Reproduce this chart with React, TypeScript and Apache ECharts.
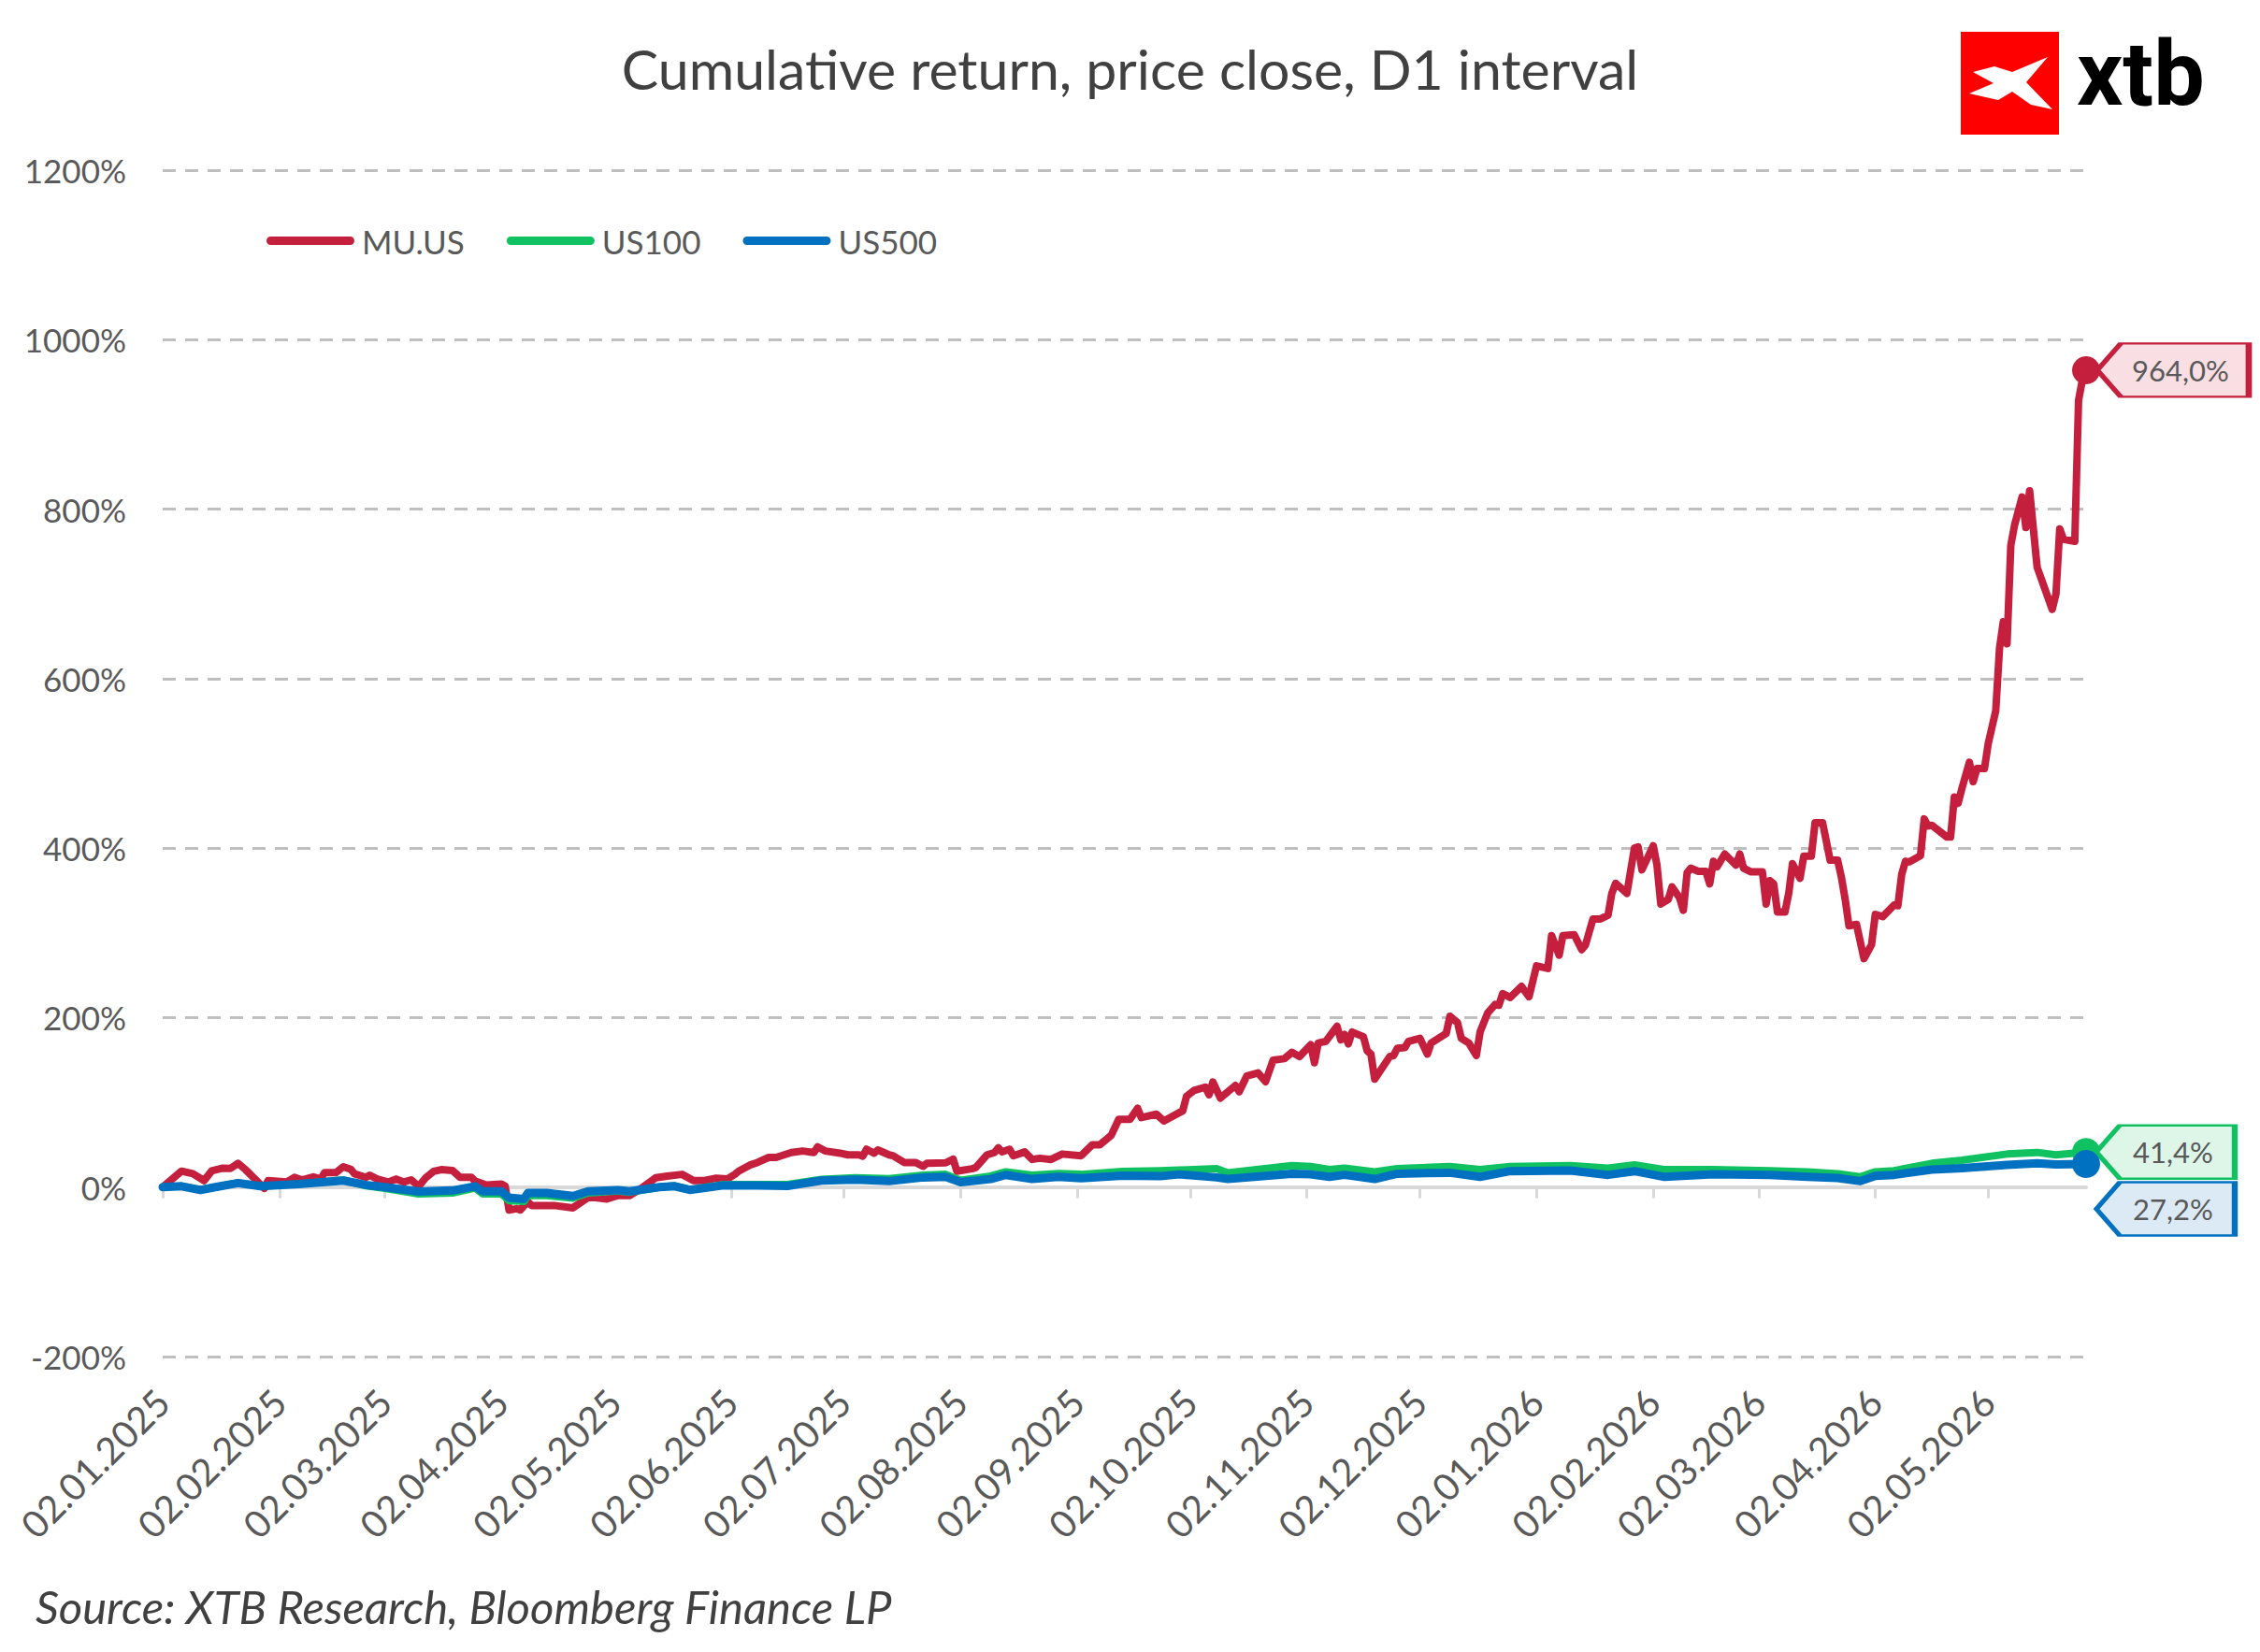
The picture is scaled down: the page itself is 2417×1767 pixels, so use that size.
import React, { useEffect, useRef } from 'react';
import * as echarts from 'echarts';

const FONT = 'Lato';
const TITLE = 'Cumulative return, price close, D1 interval';
const SOURCE = 'Source: XTB Research, Bloomberg Finance LP';

// x = calendar days after 02.01.2025, y = cumulative return in %
const muPoints: [number, number][] = [
    [0, 0], [5, 18.8], [8, 15.8], [11, 7.7], [13, 19], [16, 22.4], [18, 22], [20, 28], [22, 20.6], [27, -1.5],
    [28, 7.7], [33, 6], [35, 11.4], [37, 8.5], [40, 12], [42, 9.5], [43, 17], [46, 17], [48, 24], [50, 21],
    [51, 15.5], [54, 11.5], [55, 14], [57, 9.5], [60, 6], [62, 9.5], [64, 6], [66, 8.5], [68, 1], [70, 11.5],
    [72, 18.5], [74, 20.6], [77, 19.5], [79, 11.5], [82, 11.5], [83, 7], [86, 2.5], [90, 3.6], [91, 1], [92, -27],
    [94, -25.5], [95, -27], [97, -17.3], [98, -21.7], [104, -21.7], [109, -24.5], [113, -12.5], [115, -12.5], [118, -14], [121, -10],
    [124, -10], [127, -2], [131, 11], [134, 13], [138, 15], [141, 7.7], [144, 7.7], [147, 10.5], [150, 9.5], [152, 15],
    [153, 18.7], [156, 26], [158, 29], [161, 35], [163, 35], [167, 40.8], [170, 42.6], [173, 40.8], [174, 47.5], [176, 42.6],
    [180, 40], [182, 38], [185, 38], [186, 36.5], [187, 44.6], [189, 40], [190, 43.8], [193, 38], [194, 37], [197, 29],
    [200, 29], [202, 24.5], [203, 28], [208, 28.6], [210, 33], [211, 18.7], [215, 21.6], [216, 23], [219, 38], [221, 40.8],
    [222, 46.4], [223, 41.5], [225, 44.6], [226, 37], [229, 41.5], [231, 32.6], [233, 34], [236, 32.6], [239, 39], [244, 37],
    [247, 50], [249, 50], [252, 61], [254, 80], [257, 80], [259, 93], [260, 82], [264, 86], [266, 78], [271, 90],
    [272, 107], [274, 114], [277, 118], [278, 109], [279, 124], [281, 105], [285, 120], [286, 112.5], [288, 131], [291, 134.7],
    [293, 124.4], [295, 149.7], [298, 151.5], [300, 159], [302, 154], [305, 168], [306, 146.7], [307, 170], [309, 172], [312, 189.7],
    [313, 173.8], [314, 180], [315, 169], [316, 183], [319, 177.5], [320, 160.9], [321, 157], [322, 127.4], [326, 154], [327, 155.2],
    [328, 163.7], [330, 164.5], [331, 172], [334, 175.6], [336, 157], [337, 170], [341, 181.3], [342, 201.6], [344, 194], [345, 175.6],
    [347, 170], [349, 155.2], [350, 183], [352, 205.3], [354, 215.6], [355, 214.5], [356, 228.3], [358, 223.8], [361, 236.8], [363, 224.6],
    [365, 261], [368, 258], [369, 296.8], [371, 273.6], [372, 296.8], [375, 297.9], [377, 280.2], [378, 285.7], [380, 316.4], [382, 316.4],
    [384, 320.8], [385, 346.6], [386, 358.4], [389, 346.6], [391, 400], [392, 401.4], [393, 374.4], [396, 402.8], [397, 380], [398, 334],
    [400, 339.5], [401, 354.2], [403, 341.3], [404, 326.5], [405, 370.8], [406, 376.3], [408, 372.6], [410, 372.6], [411, 357.9], [412, 384.4],
    [413, 378.2], [415, 393], [418, 380], [419, 393], [420, 376.3], [422, 371.9], [425, 371.9], [426, 334], [427, 361.6], [428, 357.9],
    [429, 324.7], [431, 324.7], [432, 346.6], [433, 381.7], [435, 364.5], [436, 390.5], [438, 390.5], [439, 429.9], [441, 429.9], [443, 385.7],
    [445, 385.7], [446, 365.4], [447, 339.5], [448, 308.3], [450, 310], [452, 269.5], [454, 286], [455, 321.8], [457, 319.2], [460, 332.8],
    [461, 332], [462, 368.8], [463, 384.4], [464, 383.7], [467, 391], [468, 434.5], [469, 426], [470, 427], [474, 413.1], [475, 413.1],
    [476, 460.3], [477, 452.9], [478, 470.2], [480, 501.3], [481, 478.4], [482, 493.8], [484, 493.8], [485, 523.3], [487, 562], [488, 635.7],
    [489, 667], [490, 641.2], [491, 757.2], [492, 781.2], [494, 814.3], [495, 778.2], [496, 821.7], [498, 731.4], [502, 681.7], [503, 700],
    [504, 776.7], [505, 764.5], [508, 762], [509, 928.4], [510, 952.4], [511, 964.0]
];

const us100Points: [number, number][] = [
    [0, 0], [5, 1], [10, -3], [14, 0], [20, 5], [26, 1], [36, 3.5], [48, 8.5], [54, 1.5], [59, -1.5],
    [68, -8], [77, -7], [83, -1], [85, -8], [90, -8], [92, -16], [96, -17], [97, -10], [102, -10], [109, -13],
    [113, -7], [121, -4.5], [124, -6], [132, 0], [136, 1.5], [140, -3], [149, 3], [158, 3], [166, 3], [175, 9],
    [184, 11], [193, 10], [202, 14], [208, 15], [212, 8], [220, 13], [224, 18], [231, 14], [238, 16], [244, 15],
    [255, 18.5], [265, 19.4], [270, 20], [280, 21.7], [283, 16.9], [300, 25.4], [305, 24.3], [310, 20.6], [314, 22.4], [322, 18],
    [328, 21.7], [342, 24.3], [350, 20.6], [358, 24.3], [374, 25.4], [384, 22.4], [391, 26.1], [399, 20.6], [412, 20.6], [427, 19.4],
    [437, 18], [445, 15.8], [451, 12.1], [455, 18], [460, 19.4], [470, 28], [478, 31.7], [490, 39], [498, 40.9], [503, 38],
    [511, 41.4]
];

const us500Points: [number, number][] = [
    [0, 0], [5, 1], [10, -3.5], [14, 0], [20, 4.8], [26, 1], [36, 3.5], [48, 7.7], [54, 2.5], [59, 0],
    [68, -5.2], [77, -4], [83, 1], [85, -5], [90, -5], [92, -12.5], [96, -14], [97, -7], [102, -7], [109, -10.5],
    [113, -5], [121, -3.5], [124, -5], [132, 0], [136, 1], [140, -3.3], [149, 2], [158, 2], [166, 1.3], [175, 7.7],
    [184, 8.8], [193, 7], [202, 11.4], [208, 12], [212, 5.8], [220, 9.5], [224, 14.3], [231, 9.5], [238, 12], [244, 10.5],
    [255, 13.5], [265, 12.8], [270, 15], [280, 11.4], [283, 9.6], [300, 15.8], [305, 15], [310, 12.1], [314, 14.4], [322, 9.6],
    [328, 15.8], [342, 16.9], [350, 12.1], [358, 18.8], [374, 19.5], [384, 14.4], [391, 18.8], [399, 12.1], [412, 15], [427, 14.4],
    [437, 12.1], [445, 10.7], [451, 7], [455, 13.3], [460, 14.4], [470, 20.6], [478, 22.4], [490, 26.1], [498, 28], [503, 26.8],
    [511, 27.2]
];

const tickLabels = [
    '02.01.2025', '02.02.2025', '02.03.2025', '02.04.2025', '02.05.2025', '02.06.2025',
    '02.07.2025', '02.08.2025', '02.09.2025', '02.10.2025', '02.11.2025', '02.12.2025',
    '02.01.2026', '02.02.2026', '02.03.2026', '02.04.2026', '02.05.2026'
];

const yTicks = { min: -200, max: 1200, step: 200 };

const DAY = 86400000;

const parseDate = (s: string) => {
    const [d, m, y] = s.split('.').map(Number);
    return Date.UTC(y, m - 1, d);
};
const START = parseDate(tickLabels[0]);
const toDay = (s: string) => Math.round((parseDate(s) - START) / DAY);
const pct = (v: number) => v.toFixed(1).replace('.', ',') + '%';

const LEGEND_ICON = 'path://M4.5,0H89.5A4.5,4.5,0,0,1,89.5,9H4.5A4.5,4.5,0,0,1,4.5,0Z';
const calloutPath = (w: number) => `path://M0,28.5L25,0L${w},0L${w},57L25,57Z`;

const App: React.FC = () => {
    const chartRef = useRef<HTMLDivElement>(null);

    useEffect(() => {
        if (!chartRef.current) return;
        document.body.style.margin = '0';

        const chart = echarts.init(chartRef.current, null, { renderer: 'svg' });

        const tickDays = tickLabels.map(toDay);
        const labelOf = (d: number) => tickLabels[tickDays.indexOf(Math.round(d))] ?? '';
        const lastDay = muPoints[muPoints.length - 1][0];

        const makeSeries = (
            name: string,
            pts: [number, number][],
            color: string,
            fill: string,
            width: number,
            boxW: number,
            offset: [number, number]
        ) => {
            const last = pts[pts.length - 1];
            return {
                name,
                type: 'line',
                data: pts,
                showSymbol: false,
                symbol: 'none',
                lineStyle: { color, width, join: 'round', cap: 'round' },
                itemStyle: { color },
                emphasis: { disabled: true },
                markPoint: {
                    silent: true,
                    animation: false,
                    data: [
                        {
                            coord: last,
                            symbol: 'circle',
                            symbolSize: 30,
                            itemStyle: { color },
                            label: { show: false }
                        },
                        {
                            coord: last,
                            symbol: calloutPath(boxW),
                            symbolSize: [boxW, 57],
                            symbolKeepAspect: false,
                            symbolOffset: offset,
                            itemStyle: { color: fill, borderColor: color, borderWidth: 4 },
                            label: {
                                show: true,
                                position: 'inside',
                                offset: [8, 0],
                                formatter: pct(last[1]),
                                color: '#595959',
                                fontSize: 31,
                                fontFamily: FONT
                            }
                        }
                    ]
                }
            };
        };

        const option = {
            animation: false,
            textStyle: { fontFamily: FONT },
            title: {
                text: TITLE,
                left: 'center',
                top: 44,
                padding: 0,
                textStyle: { fontSize: 59, fontWeight: 'normal', color: '#404040', fontFamily: FONT }
            },
            legend: {
                left: 285,
                top: 240,
                padding: 0,
                icon: LEGEND_ICON,
                itemWidth: 94,
                itemHeight: 9,
                itemGap: 45,
                textStyle: { fontSize: 35, color: '#595959', padding: [0, 0, 0, 3] },
                data: ['MU.US', 'US100', 'US500']
            },
            grid: { left: 174, right: 186, top: 182, bottom: 316, outerBoundsMode: 'none' },
            xAxis: [
                {
                    type: 'value',
                    position: 'bottom',
                    min: 0,
                    max: lastDay,
                    axisLine: { show: false, onZero: false },
                    axisTick: { show: false },
                    splitLine: { show: false },
                    axisLabel: {
                        customValues: tickDays,
                        rotate: 45,
                        margin: 42,
                        fontSize: 40,
                        color: '#595959',
                        formatter: (v: number) => labelOf(v)
                    }
                },
                {
                    type: 'value',
                    position: 'bottom',
                    min: 0,
                    max: lastDay,
                    axisLine: { show: true, onZero: true, lineStyle: { color: '#D9D9D9', width: 4 } },
                    axisTick: {
                        show: true,
                        customValues: tickDays,
                        length: 12,
                        lineStyle: { color: '#D9D9D9', width: 3 }
                    },
                    axisLabel: { show: false },
                    splitLine: { show: false }
                }
            ],
            yAxis: {
                type: 'value',
                min: yTicks.min,
                max: yTicks.max,
                interval: yTicks.step,
                axisLine: { show: false },
                axisTick: { show: false },
                axisLabel: { formatter: (v: number) => `${v}%`, fontSize: 35, color: '#595959', margin: 39 },
                splitLine: {
                    lineStyle: {
                        // no dashed line at 0%, the axis line sits there
                        color: ['#BFBFBF', 'rgba(0,0,0,0)', '#BFBFBF', '#BFBFBF', '#BFBFBF', '#BFBFBF', '#BFBFBF', '#BFBFBF'],
                        width: 3,
                        type: [14, 10]
                    }
                }
            },
            series: [
                makeSeries('MU.US', muPoints, '#C51F3E', '#F9DFE3', 8, 162, [93, 0]),
                makeSeries('US100', us100Points, '#0FC160', '#DDF6E8', 8, 148, [85, 0]),
                makeSeries('US500', us500Points, '#0070C0', '#DCEAF6', 9, 148, [85, 48])
            ],
            graphic: [
                {
                    type: 'rect',
                    shape: { x: 2097, y: 34, width: 105, height: 110 },
                    style: { fill: '#FF0000' }
                },
                {
                    type: 'polygon',
                    shape: {
                        points: [
                            [2110, 77], [2133, 71], [2152, 77], [2190, 61], [2167, 88], [2195, 117],
                            [2172, 112], [2152, 98], [2137, 107], [2106, 100], [2132, 89]
                        ]
                    },
                    style: { fill: '#FFFFFF' }
                },
                {
                    type: 'text',
                    left: 2221,
                    top: 30,
                    style: { text: 'xtb', fontSize: 97, fontWeight: 'bold', fontFamily: 'Roboto', fill: '#000000' }
                },
                {
                    type: 'text',
                    left: 38,
                    top: 1693,
                    style: { text: SOURCE, fontSize: 49, fontStyle: 'italic', fontFamily: FONT, fill: '#404040' }
                }
            ]
        };

        chart.setOption(option as any);

        const handleResize = () => chart.resize();
        window.addEventListener('resize', handleResize);

        return () => {
            window.removeEventListener('resize', handleResize);
            chart.dispose();
        };
    }, []);

    return <div ref={chartRef} style={{ width: 2417, height: 1767 }} />;
};

export default App;
